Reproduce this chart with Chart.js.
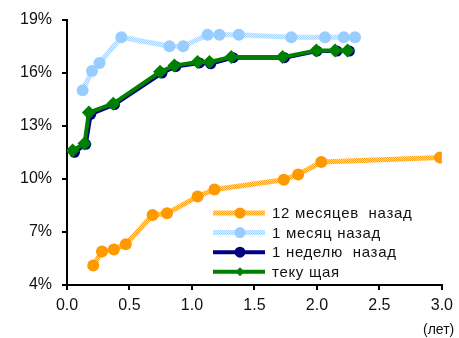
<!DOCTYPE html>
<html>
<head>
<meta charset="utf-8">
<script src="https://cdn.jsdelivr.net/npm/chart.js@4"></script>
<style>
  html, body { margin: 0; padding: 0; background: #fff; }
  #wrap { width: 459px; height: 338px; position: relative; }
</style>
</head>
<body>
<div id="wrap"><canvas id="chart"></canvas></div>
<script>
// series labels
const labels = ["12 месяцев  назад", "1 месяц назад", "1 неделю  назад", "теку щая"];

// 12 months ago
const x12m = [0.21, 0.28, 0.375, 0.47, 0.685, 0.80, 1.045, 1.18, 1.735, 1.85, 2.035, 2.985];
const y12m = [5.1, 5.9, 6.0, 6.3, 7.95, 8.05, 9.0, 9.4, 9.95, 10.25, 10.95, 11.2];

// 1 month ago
const x1m = [0.125, 0.20, 0.26, 0.435, 0.82, 0.93, 1.125, 1.22, 1.375, 1.795, 2.065, 2.215, 2.305];
const y1m = [15.0, 16.1, 16.55, 18.0, 17.5, 17.5, 18.15, 18.15, 18.15, 18.0, 18.0, 18.0, 18.0];

// 1 week ago
const x1w = [0.06, 0.15, 0.19, 0.38, 0.76, 0.87, 1.06, 1.15, 1.33, 1.74, 2.0, 2.16, 2.26];
const y1w = [11.5, 11.95, 13.65, 14.2, 15.98, 16.35, 16.55, 16.5, 16.85, 16.85, 17.22, 17.22, 17.22];

// current
const xNow = [0.045, 0.14, 0.175, 0.37, 0.745, 0.86, 1.045, 1.14, 1.315, 1.725, 1.995, 2.145, 2.245];
const yNow = [11.6, 12.0, 13.75, 14.25, 16.05, 16.4, 16.6, 16.6, 16.88, 16.88, 17.25, 17.25, 17.25];

// axis ticks
const yTicks = [4, 7, 10, 13, 16, 19];
const xTicks = [0, 0.5, 1, 1.5, 2, 2.5, 3];

const FONT = '"Liberation Sans", Arial, sans-serif';

function pts(xs, ys) {
  return xs.map((x, i) => ({ x: x, y: ys[i] }));
}

// checkered texture for the lighter lines
function checker(c1, c2) {
  const c = document.createElement('canvas');
  c.width = 2; c.height = 2;
  const g = c.getContext('2d');
  g.fillStyle = c2; g.fillRect(0, 0, 2, 2);
  g.fillStyle = c1; g.fillRect(0, 0, 1, 1); g.fillRect(1, 1, 1, 1);
  return g.createPattern(c, 'repeat');
}

const orangeLine = checker('#FFA41C', '#FFD8A0');
const blueLine = checker('#A8D2FF', '#E4F1FF');

// legend drawn inside the plot, lower right
const insideLegend = {
  id: 'insideLegend',
  afterDatasetsDraw(chart) {
    const ctx = chart.ctx;
    ctx.save();
    chart.data.datasets.forEach((ds, i) => {
      const y = 213 + i * 19.6;
      ctx.strokeStyle = ds.borderColor;
      ctx.lineWidth = ds.borderWidth;
      ctx.beginPath();
      ctx.moveTo(213, y);
      ctx.lineTo(265, y);
      ctx.stroke();
      ctx.fillStyle = ds.pointBackgroundColor;
      ctx.strokeStyle = ds.pointBackgroundColor;
      Chart.helpers.drawPoint(ctx, {
        pointStyle: ds.pointStyle,
        radius: ds.pointStyle === 'rectRot' ? 4.5 : 5.5,
        rotation: 0,
        borderWidth: 0
      }, 240, y);
      ctx.fillStyle = '#111';
      ctx.font = '15px ' + FONT;
      ctx.letterSpacing = '0.7px';
      ctx.textBaseline = 'middle';
      ctx.textAlign = 'left';
      ctx.fillText(ds.label, 272, y + 1);
    });
    ctx.letterSpacing = '0px';
    ctx.font = '14px ' + FONT;
    ctx.fillStyle = '#111';
    ctx.textBaseline = 'top';
    ctx.fillText('(лет)', 423, 323);
    ctx.restore();
  }
};

new Chart(document.getElementById('chart'), {
  type: 'scatter',
  data: {
    datasets: [
      {
        label: labels[0],
        data: pts(x12m, y12m),
        showLine: true,
        borderColor: orangeLine,
        borderWidth: 5,
        pointStyle: 'circle',
        pointRadius: 6,
        pointBackgroundColor: '#FF9900',
        pointBorderWidth: 0,
        order: 4
      },
      {
        label: labels[1],
        data: pts(x1m, y1m),
        showLine: true,
        borderColor: blueLine,
        borderWidth: 5,
        pointStyle: 'circle',
        pointRadius: 6,
        pointBackgroundColor: '#99CCFF',
        pointBorderWidth: 0,
        order: 3
      },
      {
        label: labels[2],
        data: pts(x1w, y1w),
        showLine: true,
        borderColor: '#000080',
        borderWidth: 4,
        pointStyle: 'circle',
        pointRadius: 5.5,
        pointBackgroundColor: '#000080',
        pointBorderWidth: 0,
        order: 2
      },
      {
        label: labels[3],
        data: pts(xNow, yNow),
        showLine: true,
        borderColor: '#008000',
        borderWidth: 4,
        pointStyle: 'rectRot',
        pointRadius: 7,
        pointBackgroundColor: '#008000',
        pointBorderWidth: 0,
        order: 1
      }
    ]
  },
  options: {
    responsive: true,
    maintainAspectRatio: false,
    animation: false,
    layout: { padding: { left: 0, right: 16, top: 19, bottom: 0 } },
    plugins: {
      legend: { display: false },
      tooltip: { enabled: false }
    },
    scales: {
      x: {
        type: 'linear',
        min: 0,
        max: 3,
        afterFit(scale) { scale.height = 53; },
        afterBuildTicks(scale) { scale.ticks = xTicks.map(v => ({ value: v })); },
        border: { display: true, color: '#000', width: 2 },
        grid: { drawOnChartArea: false, drawTicks: true, tickLength: 5, color: '#000', lineWidth: 2 },
        ticks: {
          color: '#111',
          padding: 6,
          font: { family: FONT, size: 16 },
          callback: v => v.toFixed(1)
        }
      },
      y: {
        min: 4,
        max: 19,
        afterFit(scale) { scale.width = 67; },
        afterBuildTicks(scale) { scale.ticks = yTicks.map(v => ({ value: v })); },
        border: { display: true, color: '#000', width: 2 },
        grid: { drawOnChartArea: false, drawTicks: true, tickLength: 5, color: '#000', lineWidth: 2 },
        ticks: {
          color: '#111',
          padding: 10,
          font: { family: FONT, size: 16 },
          callback: v => v + '%'
        }
      }
    }
  },
  plugins: [insideLegend]
});
</script>
</body>
</html>
